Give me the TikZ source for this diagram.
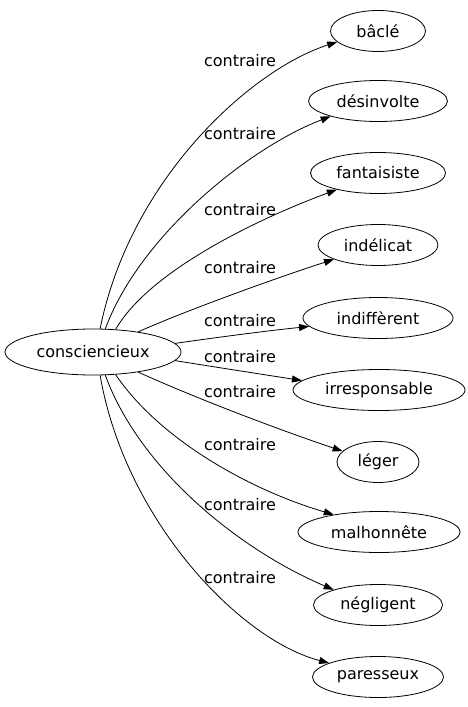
\documentclass[tikz,border=0pt]{standalone}
\usepackage{fontspec}
\setmainfont{DejaVu Sans}
\usetikzlibrary{arrows.meta,shapes.geometric}
\begin{document}
\begin{tikzpicture}[
    x=1pt, y=-1pt,
    font=\fontsize{16}{19}\selectfont,
    hnode/.style={draw, ellipse, line width=0.8pt, inner sep=0pt,
                  minimum height=46pt, minimum width=176pt},
    wnode/.style={draw, ellipse, line width=0.8pt, inner sep=0pt,
                  minimum height=41pt},
    cedge/.style={-{Triangle[length=10pt,width=7pt]}, line width=0.8pt},
    clabel/.style={inner sep=0pt},
]
\useasboundingbox (0,0) rectangle (467,707);

% Head word
\node[hnode] (consciencieux) at (93,352) {consciencieux};

% Antonyms, one column on the right
\node[wnode, minimum width=95pt]  (bacle)         at (378,31)  {bâclé};
\node[wnode, minimum width=139pt] (desinvolte)    at (378,101) {désinvolte};
\node[wnode, minimum width=135pt] (fantaisiste)   at (378,173) {fantaisiste};
\node[wnode, minimum width=120pt] (indelicat)     at (378,245) {indélicat};
\node[wnode, minimum width=150pt] (indifferent)   at (378,318) {indiffèrent};
\node[wnode, minimum width=172pt] (irresponsable) at (379,390) {irresponsable};
\node[wnode, minimum width=82pt]  (leger)         at (378,462) {léger};
\node[wnode, minimum width=162pt] (malhonnete)    at (379,532) {malhonnête};
\node[wnode, minimum width=129pt] (negligent)     at (378,605) {négligent};
\node[wnode, minimum width=131pt] (paresseux)     at (378,677) {paresseux};

% Edge labels
\node[clabel] (l1)  at (240,61)  {contraire};
\node[clabel] (l2)  at (240,134) {contraire};
\node[clabel] (l3)  at (240,210) {contraire};
\node[clabel] (l4)  at (240,268) {contraire};
\node[clabel] (l5)  at (240,321) {contraire};
\node[clabel] (l6)  at (240,357) {contraire};
\node[clabel] (l7)  at (240,392) {contraire};
\node[clabel] (l8)  at (240,445) {contraire};
\node[clabel] (l9)  at (240,505) {contraire};
\node[clabel] (l10) at (240,578) {contraire};

% Edges
\draw[cedge] (consciencieux.73) .. controls (130,180) and (250,70) .. (bacle.195);
\draw[cedge] (consciencieux.62) .. controls (140,235) and (250,147) .. (desinvolte.198);
\draw[cedge] (consciencieux.45) .. controls (150,270) and (260,218) .. (fantaisiste.202);
\draw[cedge] (consciencieux.24) .. controls (180,313) and (270,280) .. (indelicat.198);
\draw[cedge] (consciencieux.6) .. controls (220,337) and (265,331) .. (indifferent.187);
\draw[cedge] (consciencieux.-6) .. controls (215,367) and (260,374) .. (irresponsable.173);
\draw[cedge] (consciencieux.-24) .. controls (200,400) and (280,430) .. (leger.163);
\draw[cedge] (consciencieux.-45) .. controls (160,440) and (250,490) .. (malhonnete.159);
\draw[cedge] (consciencieux.-62) .. controls (140,470) and (240,550) .. (negligent.161);
\draw[cedge] (consciencieux.-73) .. controls (125,520) and (240,640) .. (paresseux.164);
\end{tikzpicture}
\end{document}
